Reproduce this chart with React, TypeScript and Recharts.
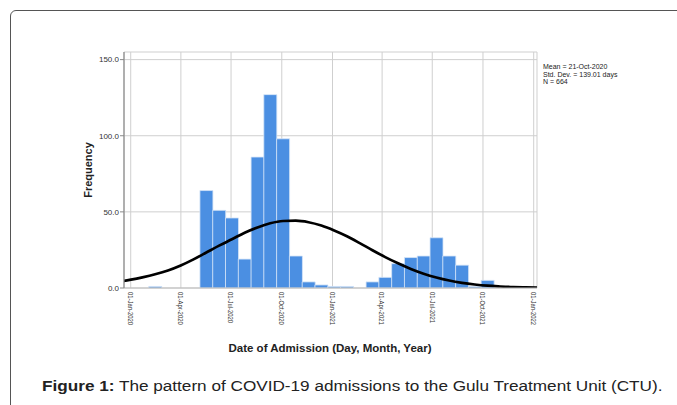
import React from 'react';
import { ComposedChart, Bar, Line, XAxis, YAxis, CartesianGrid } from 'recharts';

// Bin centres, in days since 01-Jan-2020
const binCenters = [
  -25.2, -2.0, 21.2, 44.3, 67.5, 90.7, 113.9, 137.1, 160.3, 183.5, 206.7, 229.9,
  253.0, 276.2, 299.4, 322.6, 345.8, 369.0, 392.2, 415.4, 438.5, 461.7, 484.9,
  508.1, 531.3, 554.5, 577.7, 600.9, 624.0, 647.2, 670.4, 693.6, 716.8, 740.0,
];
// Admissions per bin (frequency)
const binCounts = [
  0, 0, 0, 1, 0, 0, 0, 64, 51, 46, 19, 86, 127, 98, 21, 4, 2, 1, 1, 0, 4, 7, 16,
  20, 21, 33, 21, 15, 1, 5, 0, 0, 0, 0,
];
// Fitted normal curve height read at each bin centre
const curveValues = [
  3.8, 5.3, 7.0, 9.0, 11.5, 14.8, 18.8, 23.3, 27.8, 32.0, 36.3, 39.8, 42.5, 44.0,
  44.2, 43.2, 41.0, 37.8, 34.0, 29.5, 24.8, 20.3, 16.2, 12.5, 9.4, 6.9, 4.9, 3.4,
  2.3, 1.5, 1.0, 0.6, 0.4, 0.25,
];
const xTickDays = [0, 91, 182, 274, 366, 456, 547, 639, 731];
const xTickLabels = [
  '01-Jan-2020', '01-Apr-2020', '01-Jul-2020', '01-Oct-2020', '01-Jan-2021',
  '01-Apr-2021', '01-Jul-2021', '01-Oct-2021', '01-Jan-2022',
];
const yTicks = [0, 50, 100, 150];
const statsLines = ['Mean = 21-Oct-2020', 'Std. Dev. = 139.01 days', 'N = 664'];
const xTitle = 'Date of Admission (Day, Month, Year)';
const yTitle = 'Frequency';

const data = binCenters.map((d, i) => ({ day: d, count: binCounts[i], curve: curveValues[i] }));

const FONT = '"Liberation Sans", Arial, sans-serif';

const XTick = (props: any) => {
  const { x, y, payload } = props;
  const idx = xTickDays.indexOf(payload.value);
  return (
    <g transform={`translate(${x},${y}) rotate(90) scale(1,1.25)`}>
      <text x={0} y={0} dominantBaseline="central" textAnchor="start" fontSize={5.9} fill="#333" fontFamily={FONT}>
        {idx >= 0 ? xTickLabels[idx] : ''}
      </text>
    </g>
  );
};

export default function App() {
  return (
    <div style={{ position: 'absolute', left: 0, top: 0, width: 677, height: 405, overflow: 'hidden', background: '#fff', fontFamily: FONT }}>
      <div style={{ position: 'absolute', left: 10, top: 10, width: 720, height: 440, border: '1.5px solid #555', borderRadius: 6, boxSizing: 'border-box' }} />
      <div style={{ position: 'absolute', left: 0, top: 0 }}>
        <ComposedChart
          width={677}
          height={405}
          data={data}
          margin={{ top: 52, right: 140, bottom: 0, left: 0 }}
          barCategoryGap={0}
          barGap={0}
          style={{ fontFamily: FONT }}
        >
          <CartesianGrid stroke="#cfcfcf" strokeWidth={1} />
          <XAxis
            type="number"
            dataKey="day"
            domain={[-12.2, 737]}
            allowDataOverflow
            ticks={xTickDays}
            interval={0}
            height={117}
            tickSize={0}
            tickMargin={4}
            tickLine={false}
            axisLine={{ stroke: '#bdbdbd' }}
            tick={<XTick />}
          />
          <YAxis
            type="number"
            domain={[0, 155]}
            allowDataOverflow
            ticks={yTicks}
            interval={0}
            width={124}
            tickSize={4}
            tickMargin={1}
            axisLine={{ stroke: '#8a8a8a', strokeWidth: 1.2 }}
            tickLine={{ stroke: '#8a8a8a' }}
            tick={{ fontSize: 8, fill: '#333', fontFamily: FONT }}
            tickFormatter={(v: number) => v.toFixed(1)}
          />
          <Bar dataKey="count" fill="#4b8fe2" stroke="#d6e4f7" strokeWidth={0.8} isAnimationActive={false} />
          <Line dataKey="curve" type="monotone" stroke="#000" strokeWidth={2.7} dot={false} activeDot={false} isAnimationActive={false} />
        </ComposedChart>
      </div>
      <div style={{ position: 'absolute', left: 88, top: 170, transform: 'translate(-50%,-50%) rotate(-90deg)', fontSize: 11, fontWeight: 'bold', color: '#222', whiteSpace: 'nowrap' }}>
        {yTitle}
      </div>
      <div style={{ position: 'absolute', left: 330, top: 348, transform: 'translate(-50%,-50%)', fontSize: 11.5, fontWeight: 'bold', color: '#222', whiteSpace: 'nowrap' }}>
        {xTitle}
      </div>
      <div style={{ position: 'absolute', left: 543, top: 63, fontSize: 7, lineHeight: '7.5px', color: '#222', whiteSpace: 'nowrap' }}>
        {statsLines.map((s, i) => (
          <div key={i}>{s}</div>
        ))}
      </div>
      <div style={{ position: 'absolute', left: 42, top: 386, transform: 'translateY(-50%) scaleX(1.107)', transformOrigin: 'left center', fontSize: 15.5, color: '#222', whiteSpace: 'nowrap' }}>
        <b>Figure 1:</b> The pattern of COVID-19 admissions to the Gulu Treatment Unit (CTU).
      </div>
    </div>
  );
}
